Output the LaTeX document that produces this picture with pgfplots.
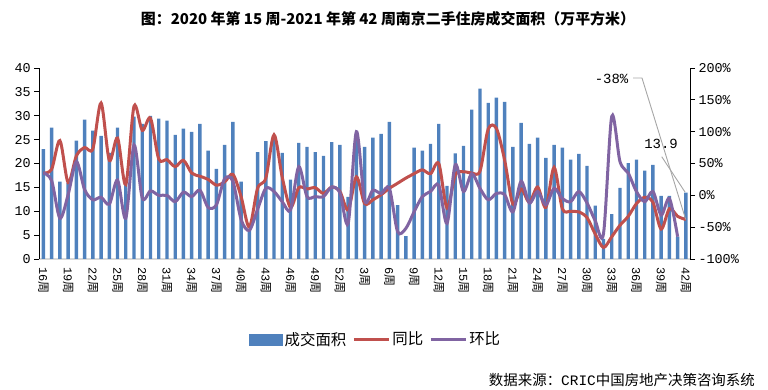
\documentclass[border=0pt]{standalone}
\usepackage{pgfplots}
\pgfplotsset{compat=1.18}
\usepackage{pgfplotstable}
\usepackage{fontspec}
\setmainfont{Noto Sans CJK SC}
\newfontfamily\numfont{Liberation Mono}
\definecolor{cbar}{HTML}{4F81BD}
\definecolor{cred}{HTML}{C0504D}
\definecolor{cpur}{HTML}{8064A2}
\definecolor{cbase}{HTML}{D9D9D9}
\definecolor{clead}{HTML}{A6A6A6}
\newcommand\wk[1]{{\numfont #1}周}

\pgfplotstableread{
i v
0 23.0
1 27.5
2 16.2
3 16.0
4 24.8
5 29.2
6 26.9
7 25.8
8 22.2
9 27.5
10 17.0
11 29.8
12 28.3
13 30.0
14 29.4
15 29.0
16 26.0
17 27.3
18 26.6
19 28.3
20 22.7
21 18.9
22 23.9
23 28.7
24 16.2
25 6.3
26 22.4
27 24.7
28 25.5
29 22.2
30 16.6
31 24.3
32 23.5
33 22.4
34 21.6
35 24.5
36 23.9
37 13.0
38 26.0
39 23.5
40 25.4
41 26.2
42 28.7
43 11.3
44 4.8
45 23.3
46 22.7
47 24.1
48 28.3
49 15.3
50 22.1
51 23.7
52 31.3
53 35.7
54 32.7
55 33.8
56 32.9
57 23.5
58 28.5
59 24.1
60 25.4
61 21.2
62 23.9
63 23.3
64 20.8
65 22.0
66 19.5
67 11.2
68 4.2
69 9.4
70 14.9
71 20.1
72 20.8
73 18.5
74 19.7
75 13.2
76 13.2
77 4.7
78 13.9
}\bars

\pgfplotstableread{
i p
0 35
1 41
2 86
3 20
4 62
5 75
6 73
7 145
8 55
9 90
10 17
11 140
12 102
13 121
14 57
15 56
16 45
17 55
18 35
19 30
20 25
21 16
22 21
23 33
24 -2
25 -50
26 11
27 27
28 95
29 28
30 -19
31 12
32 10
33 12
34 3
35 13
36 6
37 -23
38 29
39 -13
40 -7
41 1
42 11
43 19
44 27
45 34
46 40
47 34
48 50
49 -20
50 32
51 37
52 35
53 38
54 104
55 105
56 55
57 -14
58 10
59 -11
60 13
61 -19
62 44
63 -21
64 -25
65 -26
66 -35
67 -61
68 -82
69 -65
70 -47
71 -33
72 -13
73 -3
74 -11
75 -53
76 -21
77 -33
78 -38
}\yoy

\pgfplotstableread{
i p
0 35
1 23
2 -36
3 1
4 53
5 9
6 -7
7 -3
8 -14
9 24
10 -36
11 79
12 -4
13 7
14 0
15 0
16 -10
17 5
18 -2
19 8
20 -19
21 -15
22 26
23 22
24 -38
25 -55
26 -22
27 11
28 6
29 -10
30 -23
31 45
32 -2
33 -2
34 -2
35 13
36 4
37 -44
38 100
39 -8
40 8
41 3
42 11
43 -57
44 -52
45 -26
46 -2
47 6
48 16
49 -44
50 48
51 6
52 34
53 11
54 -7
55 3
56 1
57 -26
58 22
59 -12
60 6
61 -15
62 11
63 -5
64 -10
65 6
66 -12
67 -40
68 -60
69 124
70 53
71 35
72 6
73 -10
74 6
75 -31
76 -5
77 -65
}\mom

\begin{document}
\begin{tikzpicture}
\useasboundingbox (0,0) rectangle (768bp,390bp);
\pgfplotsset{
  base/.style={
    at={(39.3bp,131bp)}, anchor=south west,
    scale only axis, width=650.7bp, height=191bp,
    xmin=-0.5, xmax=78.5,
    tick align=outside, major tick length=5bp,
    /pgf/number format/assume math mode=true,
    yticklabel style={font=\numfont\fontsize{13.5}{14}\selectfont},
  }
}
\begin{axis}[base,
  ymin=0, ymax=40,
  axis x line*=bottom, axis y line*=left,
  x axis line style={cbase, line width=1.2bp, -},
  y axis line style={black, line width=0.8bp, -},
  xtick={0,3,...,78},
  xticklabels={\wk{16},\wk{19},\wk{22},\wk{25},\wk{28},\wk{31},\wk{34},\wk{37},\wk{40},\wk{43},\wk{46},\wk{49},\wk{52},\wk{3},\wk{6},\wk{9},\wk{12},\wk{15},\wk{18},\wk{21},\wk{24},\wk{27},\wk{30},\wk{33},\wk{36},\wk{39},\wk{42}},
  xtick style={draw=none},
  xticklabel style={rotate=-90, anchor=west, font=\fontsize{12}{12}\selectfont},
  ytick={0,5,...,40},
  ytick style={black, line width=0.8bp},
]
\addplot[ybar, bar width=3.4bp, fill=cbar, draw=none] table[x=i,y=v] {\bars};
\end{axis}
\begin{axis}[base,
  ymin=-100, ymax=200,
  axis x line=none, axis y line*=right,
  y axis line style={black, line width=0.8bp, -},
  ytick={-100,-50,...,200},
  ytick style={black, line width=0.8bp},
  yticklabel={\pgfmathprintnumber{\tick}\%},
  legend columns=3,
  legend style={at={(0.517,-0.42)}, anchor=center, draw=none, fill=none,
    font=\fontsize{15.5}{16}\selectfont,
    /tikz/every even column/.append style={column sep=4bp}},
  legend image code/.code={\draw[#1] (0bp,0bp) -- (35bp,0bp);},
]
\addlegendimage{legend image code/.code={\fill[cbar] (0bp,-5.5bp) rectangle (33bp,5.5bp);}}
\addlegendentry{成交面积}
\addplot[cred, line width=3bp, smooth, tension=0.5] table[x=i,y=p] {\yoy};
\addlegendentry{同比}
\addplot[cpur, line width=3bp, smooth, tension=0.5] table[x=i,y=p] {\mom};
\addlegendentry{环比}
\end{axis}
\draw[clead, line width=0.9bp] (633bp,312bp) -- (642bp,312bp) -- (685.7bp,170.5bp);
\draw[clead, line width=0.9bp] (661.7bp,233.3bp) -- (685bp,198bp);
\node[font=\numfont\fontsize{14}{14}\selectfont, inner sep=0pt] at (611.5bp,311bp) {-38\%};
\node[font=\numfont\fontsize{14}{14}\selectfont, inner sep=0pt] at (661bp,246bp) {13.9};
\node[font=\bfseries\fontsize{15}{15}\selectfont, inner sep=0pt] at (388bp,371bp) {图：2020 年第 15 周-2021 年第 42 周南京二手住房成交面积（万平方米）};
\node[font=\fontsize{14.5}{14.5}\selectfont, inner sep=0pt, anchor=east] at (755bp,10bp) {数据来源：{\numfont CRIC}中国房地产决策咨询系统};
\end{tikzpicture}
\end{document}
